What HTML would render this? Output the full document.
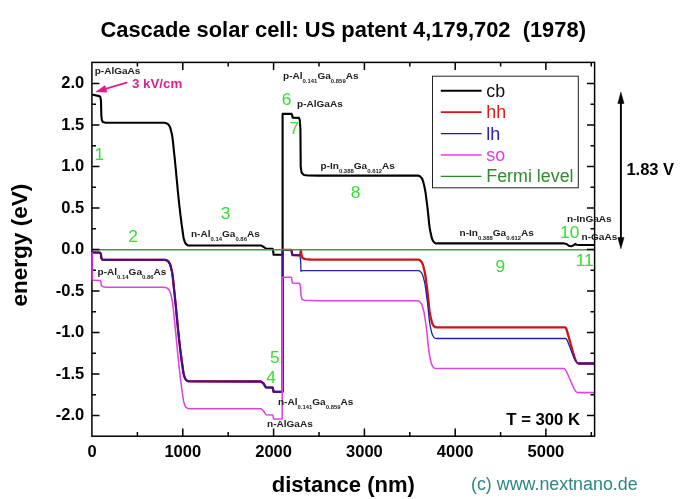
<!DOCTYPE html>
<html lang="en"><head><meta charset="utf-8"><title>Cascade solar cell: US patent 4,179,702 (1978)</title><style>html,body{margin:0;padding:0;background:#fff}svg{display:block}</style></head>
<body>
<svg width="682" height="499" viewBox="0 0 682 499" font-family="'Liberation Sans', Arial, Helvetica, sans-serif">
<rect width="682" height="499" fill="#fff"/>
<clipPath id="c"><rect x="91.9" y="62.4" width="503.7" height="373.8"/></clipPath>
<g clip-path="url(#c)" fill="none" stroke-linejoin="round" stroke-linecap="butt">
<path d="M92.0 94.5L99.3 96.1L100.4 97.2L101.0 100.9L101.3 115.0L101.8 120.0L102.8 122.0L105.7 122.8L163.6 122.8L164.2 122.8L164.9 122.9L165.5 123.0L166.2 123.2L166.8 123.4L167.5 123.8L168.1 124.3L168.8 125.0L169.4 126.0L170.1 127.4L170.7 129.4L171.3 131.8L172.0 134.7L172.6 138.8L173.3 144.7L173.9 151.0L174.6 157.1L175.2 163.5L175.9 170.2L176.5 177.1L177.2 184.0L177.8 190.8L178.5 197.3L179.1 203.4L179.8 209.1L180.4 214.7L181.1 220.0L181.7 224.9L182.4 229.5L183.0 234.1L183.6 238.0L184.3 240.4L184.9 242.2L185.6 243.5L186.2 244.2L186.9 244.7L187.5 245.2L188.2 245.4L188.8 245.5L260.9 245.5L263.2 246.6L265.9 248.5L272.7 248.7L273.2 251.2L273.6 254.8L282.6 254.8L282.6 113.9L291.6 113.9L292.1 115.0L292.7 117.7L299.0 117.9L299.8 120.0L300.4 129.2L300.7 166.5L301.6 172.7L304.0 175.0L308.1 175.5L319.0 175.6L418.1 175.6L418.7 175.7L419.3 176.0L419.9 176.3L420.5 176.8L421.0 177.4L421.6 178.0L422.2 179.0L422.8 180.5L423.4 182.4L423.9 184.6L424.5 187.0L425.1 190.0L425.7 193.7L426.2 197.9L426.8 202.3L427.4 206.9L428.0 212.3L428.6 218.2L429.1 223.6L429.7 227.9L430.3 231.2L430.9 234.1L431.5 236.7L432.0 238.7L432.6 240.1L433.2 241.1L433.8 242.0L434.4 242.5L434.9 242.9L435.5 243.2L436.1 243.4L564.1 243.4L566.6 244.0L568.8 245.8L571.4 246.2L573.6 245.3L575.2 244.0L576.6 244.7L579.1 245.0L594.6 245.0" stroke="#000" stroke-width="2.1"/>
<path d="M92.0 252.4L99.8 252.6L100.9 253.7L101.3 257.8L102.2 259.6L105.7 259.8L163.6 259.8L164.2 259.8L164.9 259.9L165.5 260.0L166.2 260.2L166.8 260.4L167.5 260.8L168.1 261.3L168.8 262.1L169.4 263.0L170.1 264.4L170.7 266.4L171.3 268.8L172.0 271.6L172.6 275.7L173.3 281.5L173.9 287.8L174.6 293.8L175.2 300.1L175.9 306.8L176.5 313.6L177.2 320.4L177.8 327.1L178.5 333.6L179.1 339.6L179.8 345.3L180.4 350.8L181.1 356.0L181.7 360.9L182.4 365.5L183.0 370.0L183.6 373.8L184.3 376.2L184.9 378.0L185.6 379.3L186.2 380.0L186.9 380.5L187.5 380.9L188.2 381.2L188.8 381.3L260.9 381.5L263.2 383.1L265.9 387.4L272.7 387.6L273.2 389.8L273.6 391.8L282.6 391.8L282.6 249.9L291.4 249.9L291.9 252.8L292.5 255.1L299.0 255.3L300.2 254.5L300.9 250.5L301.4 254.5L302.5 258.2L305.4 259.2L309.9 259.5L319.0 259.6L418.1 259.6L418.7 259.7L419.3 260.0L419.9 260.3L420.5 260.8L421.0 261.4L421.6 262.0L422.2 263.0L422.8 264.5L423.4 266.4L423.9 268.6L424.5 271.0L425.1 274.0L425.7 277.7L426.2 281.8L426.8 286.3L427.4 290.9L428.0 296.3L428.6 302.2L429.1 307.6L429.7 311.9L430.3 315.2L430.9 318.1L431.5 320.7L432.0 322.7L432.6 324.1L433.2 325.1L433.8 326.0L434.4 326.5L434.9 326.9L435.5 327.2L436.1 327.4L565.1 327.4Q566.0 327.4 566.9 330.6L573.9 355.2Q576.3 363.5 578.6 363.5L594.6 363.5" stroke="#d01414" stroke-width="2.3"/>
<path d="M92.0 252.4L99.8 252.6L100.9 253.7L101.3 257.8L102.2 259.6L105.7 259.8L163.6 259.8L164.2 259.8L164.9 259.9L165.5 260.0L166.2 260.2L166.8 260.4L167.5 260.8L168.1 261.3L168.8 262.1L169.4 263.0L170.1 264.4L170.7 266.4L171.3 268.8L172.0 271.6L172.6 275.7L173.3 281.5L173.9 287.8L174.6 293.8L175.2 300.1L175.9 306.8L176.5 313.6L177.2 320.4L177.8 327.1L178.5 333.6L179.1 339.6L179.8 345.3L180.4 350.8L181.1 356.0L181.7 360.9L182.4 365.5L183.0 370.0L183.6 373.8L184.3 376.2L184.9 378.0L185.6 379.3L186.2 380.0L186.9 380.5L187.5 380.9L188.2 381.2L188.8 381.3L260.9 381.5L263.2 383.1L265.9 387.4L272.7 387.6L273.2 389.8L273.6 391.8L282.6 391.8L282.6 249.9L291.4 249.9L291.9 252.8L292.5 255.1L299.0 255.3L299.9 256.1L300.6 260.3L301.0 271.2L302.7 270.7L319.0 270.6L418.1 270.6L418.7 270.7L419.3 270.9L419.9 271.3L420.5 271.8L421.0 272.3L421.6 273.0L422.2 274.0L422.8 275.5L423.4 277.4L423.9 279.6L424.5 281.9L425.1 284.9L425.7 288.7L426.2 292.9L426.8 297.3L427.4 301.9L428.0 307.4L428.6 313.2L429.1 318.7L429.7 323.0L430.3 326.3L430.9 329.2L431.5 331.8L432.0 333.8L432.6 335.2L433.2 336.2L433.8 337.1L434.4 337.7L434.9 338.0L435.5 338.3L436.1 338.5L565.6 338.5Q566.6 338.5 567.5 340.9L573.7 357.3Q576.1 363.5 578.4 363.5L594.6 363.5" stroke="#2420a4" stroke-width="1.3"/>
<path d="M92.0 252.4L99.8 252.6L100.9 253.7L101.3 257.8L102.2 259.6L105.7 259.8L163.6 259.8L164.2 259.8L164.9 259.9L165.5 260.0L166.2 260.2L166.8 260.4L167.5 260.8L168.1 261.3L168.8 262.1L169.4 263.0L170.1 264.4L170.7 266.4L171.3 268.8L172.0 271.6L172.6 275.7L173.3 281.5L173.9 287.8L174.6 293.8L175.2 300.1L175.9 306.8L176.5 313.6L177.2 320.4L177.8 327.1L178.5 333.6L179.1 339.6L179.8 345.3L180.4 350.8L181.1 356.0L181.7 360.9L182.4 365.5L183.0 370.0L183.6 373.8L184.3 376.2L184.9 378.0L185.6 379.3L186.2 380.0L186.9 380.5L187.5 380.9L188.2 381.2L188.8 381.3L260.9 381.5L263.2 383.1L265.9 387.4L272.7 387.6L273.2 389.8L273.6 391.8L282.6 391.8L282.6 249.9L291.4 249.9L291.9 252.8L292.5 255.1L299.0 255.3M578.8 363.4L580.0 363.5L594.6 363.5" stroke="#42108a" stroke-width="2.0"/>
<path d="M92.0 280.2L99.8 280.4L100.9 281.5L101.3 285.2L102.2 286.4L105.7 287.3L163.6 287.3L164.2 287.4L164.9 287.5L165.5 287.6L166.2 287.7L166.8 288.0L167.5 288.3L168.1 288.9L168.8 289.6L169.4 290.5L170.1 292.0L170.7 293.9L171.3 296.3L172.0 299.1L172.6 303.2L173.3 309.0L173.9 315.3L174.6 321.3L175.2 327.6L175.9 334.3L176.5 341.1L177.2 347.9L177.8 354.6L178.5 361.0L179.1 367.1L179.8 372.7L180.4 378.2L181.1 383.5L181.7 388.4L182.4 392.9L183.0 397.4L183.6 401.2L184.3 403.6L184.9 405.4L185.6 406.7L186.2 407.4L186.9 407.9L187.5 408.3L188.2 408.6L188.8 408.7L260.9 408.7L263.2 410.5L265.9 414.7L272.7 414.9L273.2 417.2L273.6 419.0L282.2 419.0L282.2 277.3L291.4 277.3L291.9 280.2L292.5 283.0L299.5 283.2L300.4 286.0L301.0 295.1L301.9 299.3L304.5 300.3L319.0 300.8L417.6 300.8L418.2 300.9L418.7 301.1L419.3 301.5L419.9 302.0L420.5 302.5L421.1 303.2L421.6 304.2L422.2 305.7L422.8 307.6L423.4 309.8L424.0 312.1L424.5 315.1L425.1 318.8L425.7 323.0L426.3 327.4L426.9 332.0L427.4 337.5L428.0 343.4L428.6 348.8L429.2 353.1L429.8 356.3L430.3 359.3L430.9 361.8L431.5 363.9L432.1 365.2L432.7 366.3L433.2 367.1L433.8 367.7L434.4 368.1L435.0 368.4L435.6 368.5L563.6 368.5Q565.2 368.5 566.8 372.3L573.4 387.2Q575.7 392.6 578.1 392.6L594.6 392.6" stroke="#d846de" stroke-width="1.55"/>
<path d="M91.9 249.8H594.6" stroke="#548c54" stroke-width="1.6"/>
</g>
<g stroke="#000" stroke-width="1.5" fill="none">
<rect x="91.9" y="62.4" width="502.7" height="373.8"/>
<path d="M137.4 436.1v-4.1M137.4 62.4v4.1M182.8 436.1v-7.6M182.8 62.4v7.6M228.2 436.1v-4.1M228.2 62.4v4.1M273.6 436.1v-7.6M273.6 62.4v7.6M319.0 436.1v-4.1M319.0 62.4v4.1M364.4 436.1v-7.6M364.4 62.4v7.6M409.8 436.1v-4.1M409.8 62.4v4.1M455.2 436.1v-7.6M455.2 62.4v7.6M500.6 436.1v-4.1M500.6 62.4v4.1M545.9 436.1v-7.6M545.9 62.4v7.6M591.3 436.1v-4.1M591.3 62.4v4.1M91.9 415.5h7.6M594.6 415.5h-7.6M91.9 394.8h4.1M594.6 394.8h-4.1M91.9 374.0h7.6M594.6 374.0h-7.6M91.9 353.2h4.1M594.6 353.2h-4.1M91.9 332.5h7.6M594.6 332.5h-7.6M91.9 311.8h4.1M594.6 311.8h-4.1M91.9 291.0h7.6M594.6 291.0h-7.6M91.9 270.2h4.1M594.6 270.2h-4.1M91.9 249.5h7.6M594.6 249.5h-7.6M91.9 228.8h4.1M594.6 228.8h-4.1M91.9 208.0h7.6M594.6 208.0h-7.6M91.9 187.2h4.1M594.6 187.2h-4.1M91.9 166.5h7.6M594.6 166.5h-7.6M91.9 145.8h4.1M594.6 145.8h-4.1M91.9 125.0h7.6M594.6 125.0h-7.6M91.9 104.2h4.1M594.6 104.2h-4.1M91.9 83.5h7.6M594.6 83.5h-7.6"/>
</g>
<path d="M92.2 252.0V280.6" stroke="#cc30d6" stroke-width="1.9" fill="none"/>
<g font-weight="bold" font-size="16.5" fill="#000">
<g text-anchor="end">
<text x="84.2" y="420.0">-2.0</text>
<text x="84.2" y="378.5">-1.5</text>
<text x="84.2" y="337.0">-1.0</text>
<text x="84.2" y="295.5">-0.5</text>
<text x="84.2" y="254.0">0.0</text>
<text x="84.2" y="212.5">0.5</text>
<text x="84.2" y="171.0">1.0</text>
<text x="84.2" y="129.5">1.5</text>
<text x="84.2" y="88.0">2.0</text>
</g><g text-anchor="middle">
<text x="92.0" y="457.2">0</text>
<text x="182.8" y="457.2">1000</text>
<text x="273.6" y="457.2">2000</text>
<text x="364.4" y="457.2">3000</text>
<text x="455.2" y="457.2">4000</text>
<text x="545.9" y="457.2">5000</text>
</g></g>
<text x="343.2" y="36.7" text-anchor="middle" font-weight="bold" font-size="21.9" fill="#000" xml:space="preserve">Cascade solar cell: US patent 4,179,702  (1978)</text>
<text x="271.8" y="491.6" font-weight="bold" font-size="22" fill="#000">distance (nm)</text>
<text transform="translate(27.45 245.15) rotate(-90)" text-anchor="middle" font-weight="bold" font-size="22.55" fill="#000">energy (eV)</text>
<text x="471" y="489.5" font-size="17.85" fill="#2e8585">(c) www.nextnano.de</text>
<text x="506.3" y="424.6" font-weight="bold" font-size="16.7" fill="#000">T = 300 K</text>
<text x="626.4" y="175.2" font-weight="bold" font-size="16.5" fill="#000">1.83 V</text>
<g fill="#000" stroke="#000"><path d="M620.9 100V240" stroke-width="1.9"/><path d="M620.9 92.2l3.1 11.3h-6.2zM620.9 248.8l3.1 -11.3h-6.2z" stroke-width="0.5"/></g>
<text x="132" y="87.7" font-weight="bold" font-size="13.3" fill="#dc1f8c">3 kV/cm</text>
<g fill="#dc1f8c" stroke="#dc1f8c"><path d="M127.4 82.4L103 89.6" stroke-width="1.7"/><path d="M95.8 91.8L105.0 85.6L107.0 92.2z" stroke-width="0.5"/></g>
<rect x="432.5" y="76.2" width="145.8" height="111.6" fill="#fff" stroke="#222" stroke-width="1"/>
<path d="M440.8 90.8H481.6" stroke="#000" stroke-width="1.90"/>
<text x="486.3" y="96.8" font-size="17.85" fill="#111">cb</text>
<path d="M440.8 112.2H481.6" stroke="#e01010" stroke-width="1.70"/>
<text x="486.3" y="118.2" font-size="17.85" fill="#d42020">hh</text>
<path d="M440.8 133.6H481.6" stroke="#1c14c4" stroke-width="1.10"/>
<text x="486.3" y="139.6" font-size="17.85" fill="#2a22b8">lh</text>
<path d="M440.8 155.0H481.6" stroke="#e83ce8" stroke-width="1.30"/>
<text x="486.3" y="161.0" font-size="17.85" fill="#e23ce2">so</text>
<path d="M440.8 176.4H481.6" stroke="#2f8a2f" stroke-width="1.30"/>
<text x="486.3" y="182.4" font-size="17.85" fill="#2f8a2f">Fermi level</text>
<text transform="translate(94.7 73.7) scale(1.035 1)" font-weight="bold" font-size="9.72" fill="#1c1c1c">p-AlGaAs</text>
<text transform="translate(283.0 79.0) scale(1.035 1)" font-weight="bold" font-size="9.72" fill="#1c1c1c">p-Al<tspan font-size="5.75" dy="3.9">0.141</tspan><tspan dy="-3.9">Ga</tspan><tspan font-size="5.75" dy="3.9">0.859</tspan><tspan dy="-3.9">As</tspan></text>
<text transform="translate(297.0 106.5) scale(1.035 1)" font-weight="bold" font-size="9.72" fill="#1c1c1c">p-AlGaAs</text>
<text transform="translate(320.5 168.9) scale(1.035 1)" font-weight="bold" font-size="9.72" fill="#1c1c1c">p-In<tspan font-size="5.75" dy="3.9">0.388</tspan><tspan dy="-3.9">Ga</tspan><tspan font-size="5.75" dy="3.9">0.612</tspan><tspan dy="-3.9">As</tspan></text>
<text transform="translate(190.9 236.9) scale(1.035 1)" font-weight="bold" font-size="9.72" fill="#1c1c1c">n-Al<tspan font-size="5.75" dy="3.9">0.14</tspan><tspan dy="-3.9">Ga</tspan><tspan font-size="5.75" dy="3.9">0.86</tspan><tspan dy="-3.9">As</tspan></text>
<text transform="translate(459.5 235.7) scale(1.035 1)" font-weight="bold" font-size="9.72" fill="#1c1c1c">n-In<tspan font-size="5.75" dy="3.9">0.388</tspan><tspan dy="-3.9">Ga</tspan><tspan font-size="5.75" dy="3.9">0.612</tspan><tspan dy="-3.9">As</tspan></text>
<text transform="translate(567.0 221.7) scale(1.035 1)" font-weight="bold" font-size="9.72" fill="#1c1c1c">n-InGaAs</text>
<text transform="translate(581.5 240.2) scale(1.035 1)" font-weight="bold" font-size="9.72" fill="#1c1c1c">n-GaAs</text>
<text transform="translate(97.5 275.2) scale(1.035 1)" font-weight="bold" font-size="9.72" fill="#1c1c1c">p-Al<tspan font-size="5.75" dy="3.9">0.14</tspan><tspan dy="-3.9">Ga</tspan><tspan font-size="5.75" dy="3.9">0.86</tspan><tspan dy="-3.9">As</tspan></text>
<text transform="translate(277.9 404.6) scale(1.035 1)" font-weight="bold" font-size="9.72" fill="#1c1c1c">n-Al<tspan font-size="5.75" dy="3.9">0.141</tspan><tspan dy="-3.9">Ga</tspan><tspan font-size="5.75" dy="3.9">0.859</tspan><tspan dy="-3.9">As</tspan></text>
<text transform="translate(267.0 426.8) scale(1.035 1)" font-weight="bold" font-size="9.72" fill="#1c1c1c">n-AlGaAs</text>
<g font-size="17.4" fill="#35dd35">
<text x="94.5" y="160.1">1</text>
<text x="128.3" y="241.5">2</text>
<text x="220.7" y="219.3">3</text>
<text x="266.2" y="382.9">4</text>
<text x="270.1" y="363.0">5</text>
<text x="281.7" y="104.8">6</text>
<text x="289.5" y="134.3">7</text>
<text x="350.7" y="198.0">8</text>
<text x="495.5" y="272.3">9</text>
<text x="560.1" y="237.9">10</text>
<text x="575.7" y="265.7">11</text>
</g>
</svg>
</body></html>
